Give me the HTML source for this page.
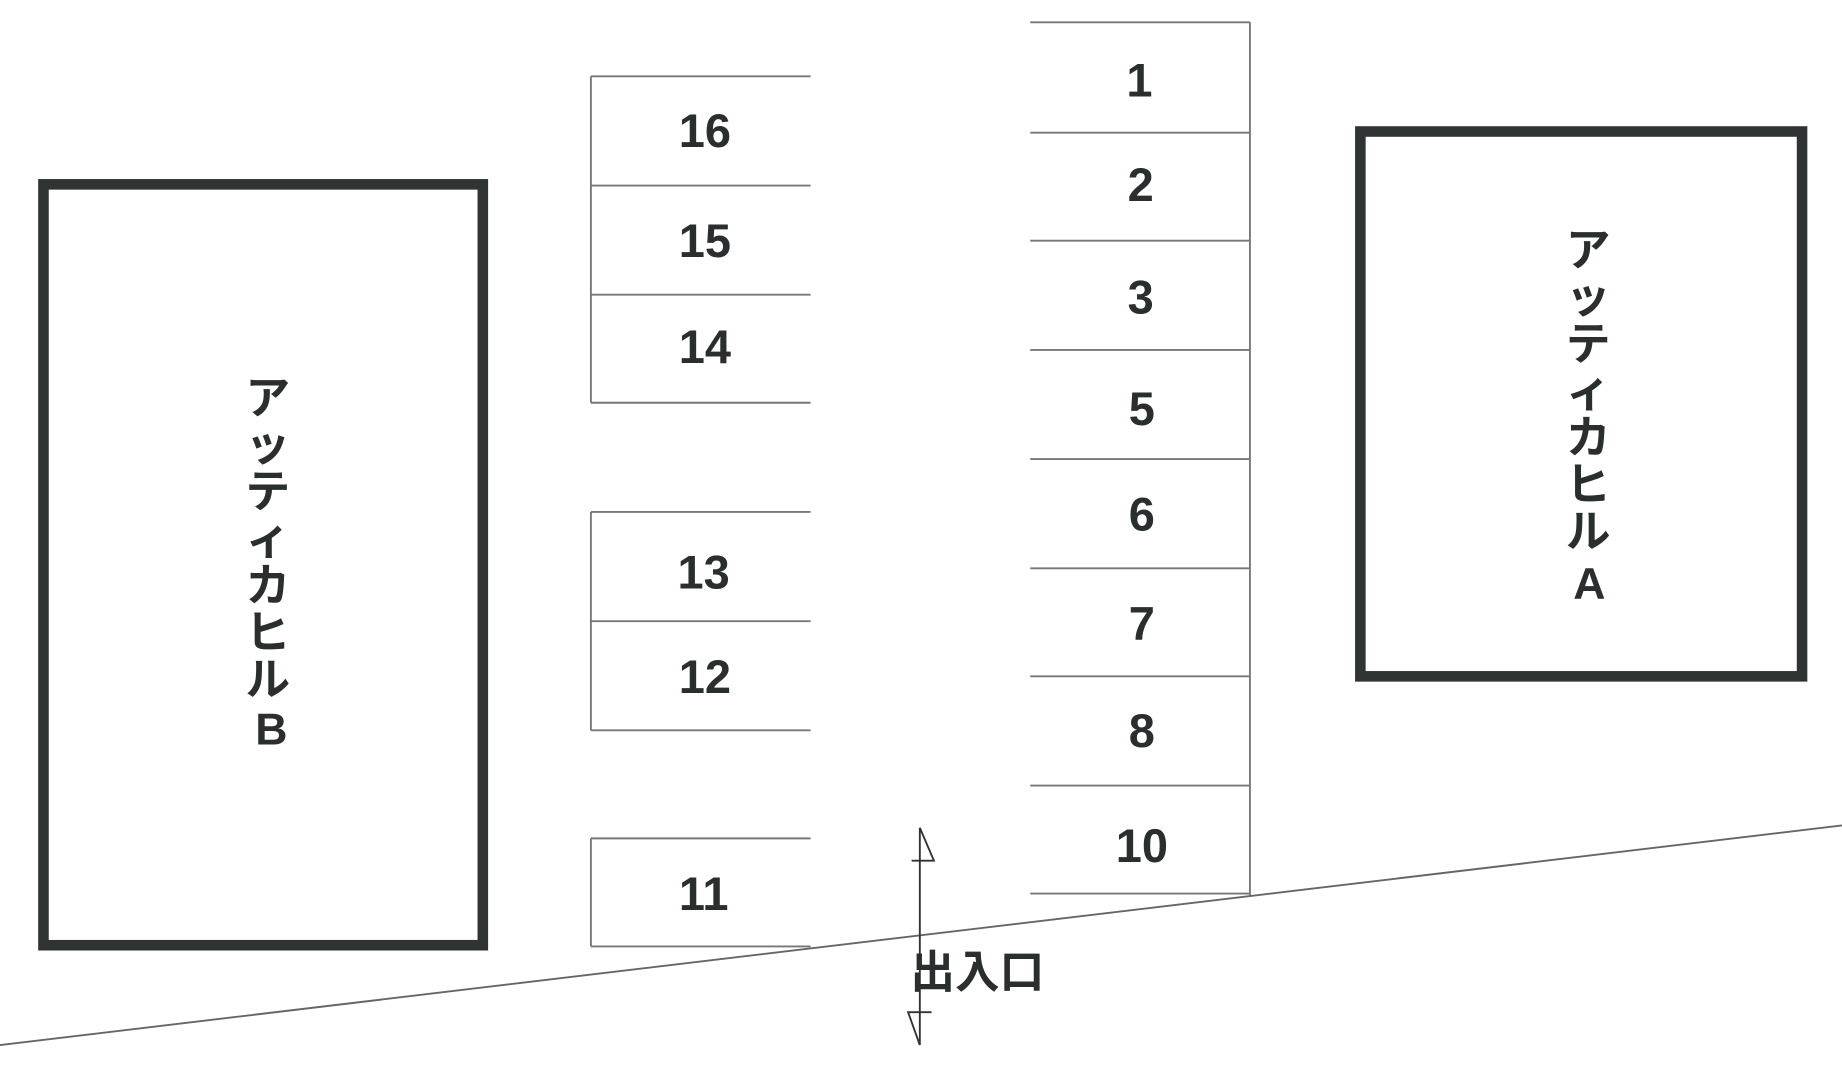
<!DOCTYPE html>
<html><head><meta charset="utf-8"><style>
html,body{margin:0;padding:0;background:#fff;}
svg{display:block;}
text{font-family:"Liberation Sans","Noto Sans CJK JP",sans-serif;font-weight:bold;fill:#2a2e2e;}
</style></head><body>
<svg width="1842" height="1092" viewBox="0 0 1568 930" preserveAspectRatio="none" xmlns="http://www.w3.org/2000/svg">
<rect x="37" y="157" width="374" height="648" fill="none" stroke="#2f3333" stroke-width="9"/>
<rect x="1158" y="112" width="376" height="464" fill="none" stroke="#2f3333" stroke-width="9"/>
<g stroke="#777" stroke-width="1.6" fill="none">
<path d="M503 65H690M503 158H690M503 251H690M503 343H690M503 65V343"/>
<path d="M503 436H690M503 529H690M503 622H690M503 436V622"/>
<path d="M503 714H690M503 806H690M503 714V806"/>
<path d="M877 19H1064M877 113H1064M877 205H1064M877 298H1064M877 391H1064M877 484H1064M877 576H1064M877 669H1064M877 761H1064M1064 19V763"/>
<path d="M0 890L1568 703" stroke="#666"/>
</g>
<g stroke="#333" stroke-width="1.6" fill="none">
<path d="M783 705V890"/>
<path d="M783 705L795 733H776"/>
<path d="M783 890L773 862H793"/>
</g>
<g font-size="40" text-anchor="middle">
<text x="970" y="82">1</text>
<text x="971" y="171">2</text>
<text x="971" y="267">3</text>
<text x="972" y="362">5</text>
<text x="972" y="452">6</text>
<text x="972" y="545">7</text>
<text x="972" y="636">8</text>
<text x="972" y="734">10</text>
<text x="600" y="125">16</text>
<text x="600" y="219">15</text>
<text x="600" y="309">14</text>
<text x="599" y="501">13</text>
<text x="600" y="590">12</text>
<text x="599" y="775">11</text>
</g>
<text x="775" y="841" font-size="38">出入口</text>
<g font-size="38" text-anchor="middle">
<text x="228" y="352">ア</text><text x="228" y="392">ッ</text><text x="228" y="432">テ</text><text x="228" y="472">ィ</text><text x="228" y="512">カ</text><text x="228" y="552">ヒ</text><text x="228" y="592">ル</text><text x="231" y="634">B</text>
<text x="1352" y="226">ア</text><text x="1352" y="266">ッ</text><text x="1352" y="306">テ</text><text x="1352" y="346">ィ</text><text x="1352" y="386">カ</text><text x="1352" y="426">ヒ</text><text x="1352" y="466">ル</text><text x="1353" y="510">A</text>
</g>
</svg>
</body></html>
